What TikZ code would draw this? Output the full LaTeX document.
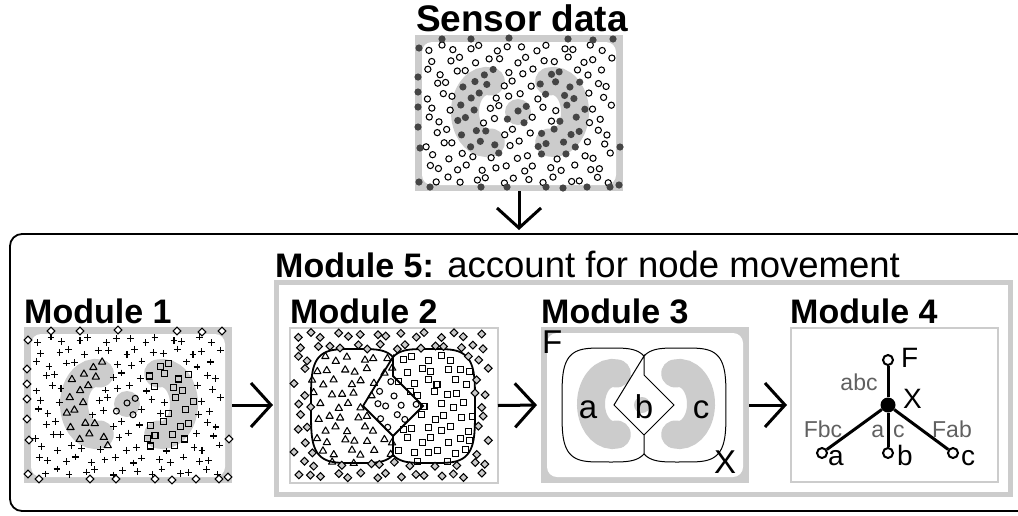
\documentclass[tikz,border=0pt]{standalone}
\usepackage{fontspec}
\setmainfont{Liberation Sans}
\usetikzlibrary{arrows.meta}
\definecolor{pg}{HTML}{CCCCCC}
\definecolor{dk}{HTML}{454545}
\definecolor{lbl}{HTML}{606060}
\newcommand\fs[1]{\fontsize{#1}{#1}\selectfont}
\newcommand\bordlist{4/13,27/4,56/4,94/3,153/4,178/5,198/4,3/42,3/57,3/72,3/92,5/113,4/147,15/152,66/152,92/152,131/152,148/153,172/152,195/152,204/150,205/112}
\newcommand\mkOpen[2]{\draw[mk,fill=white] (#1,#2) circle[radius=3.1];}
\newcommand\mkDark[2]{\fill[dk] (#1,#2) circle[radius=3.6];}
\newcommand\mkPlus[2]{\draw[mk,shift={(#1,#2)}] (-3.4,0)--(3.4,0) (0,-3.4)--(0,3.4);}
\newcommand\mkTri[2]{\draw[mk,line join=round,shift={(#1,#2)}] (0,-3.6)--(3.6,2.6)--(-3.6,2.6)--cycle;}
\newcommand\mkSq[2]{\draw[mk,shift={(#1,#2)}] (-3,-3) rectangle (3,3);}
\newcommand\mkDia[3]{\draw[mk,fill=#3,shift={(#1,#2)}] (0,-3.9)--(3.9,0)--(0,3.9)--(-3.9,0)--cycle;}
\newcommand\mkCirc[2]{\draw[mk] (#1,#2) circle[radius=3];}
\newcommand\blobs[1]{%
  \draw[pg,line width=28,line cap=round] (75.8,107.5) arc[start angle=80,end angle=280,x radius=22,y radius=31];
  \draw[pg,line width=28,line cap=round] (134.2,107.5) arc[start angle=100,end angle=-100,x radius=22,y radius=31];
  \fill[pg] #1;}
\newcommand\lobes[1]{%
  \draw[line width=#1] plot[domain=47.5:312.5,samples=90,variable=\t] ({66+45*sqrt(abs(cos(\t)))*(2*(cos(\t)>=0)-1)},{78+57*sqrt(abs(sin(\t)))*(2*(sin(\t)>=0)-1)});
  \draw[line width=#1] plot[domain=-132.5:132.5,samples=90,variable=\t] ({140+45*sqrt(abs(cos(\t)))*(2*(cos(\t)>=0)-1)},{78+57*sqrt(abs(sin(\t)))*(2*(sin(\t)>=0)-1)});
  \draw[line width=#1,line join=miter] (103,29)--(103,48)--(133,78)--(103,108)--(73,78)--cycle (103,108)--(103,127);}
\newcommand\sensorfield[1]{%
  \foreach \i in {0,...,13}{\foreach \j in {0,...,11}{
    \pgfmathsetmacro\px{13+13.4*\i+6.7*mod(\j,2)+3*sin(\i*151+\j*263+17)}
    \pgfmathsetmacro\py{13+12*\j+3*sin(\i*227+\j*97+53)}
    \pgfmathtruncatemacro\cls{1+inC(\px,\py)+2*inD(\px,\py)+3*inO(\px,\py)}
    \ifnum#1=0 \ifnum\cls=1 \mkOpen\px\py\else\mkDark\px\py\fi
    \else\ifcase\cls\or\mkPlus\px\py\or\mkTri\px\py\or\mkSq\px\py\or\mkCirc\px\py\fi\fi
  }}
  \foreach \bx/\by in \bordlist {\ifnum#1=0 \mkDark\bx\by\else\mkDia\bx\by{white}\fi}}
\begin{document}
\begin{tikzpicture}[x=1pt,y=-1pt,
  declare function={
    inC(\u,\v)=max((((\u-72)/36)^2+((\v-77)/45)^2<=1)*(((\u-72)/8)^2+((\v-77)/17)^2>=1)*(1-(\u>72)*(abs(\v-77)/31<5.67*(\u-72)/22)),(((\u-75.8)/14)^2+((\v-46.5)/14)^2<=1),(((\u-75.8)/14)^2+((\v-107.5)/14)^2<=1));
    inD(\u,\v)=max((((\u-138)/36)^2+((\v-77)/45)^2<=1)*(((\u-138)/8)^2+((\v-77)/17)^2>=1)*(1-(\u<138)*(abs(\v-77)/31<5.67*(138-\u)/22)),(((\u-134.2)/14)^2+((\v-46.5)/14)^2<=1),(((\u-134.2)/14)^2+((\v-107.5)/14)^2<=1));
    inO(\u,\v)=(((\u-103)/13)^2+((\v-77)/13)^2<=1);
    inL(\u,\v)=(((abs(\u-66)/45)^4+(abs(\v-78)/57)^4)<=1)*(\u<103);
    inR(\u,\v)=(((abs(\u-140)/45)^4+(abs(\v-78)/57)^4)<=1)*(\u>=103);
    inM(\u,\v)=((abs(\u-103)+abs(\v-78))<=30);
  },
  mk/.style={line width=1.05pt,black},
  box/.style={inner sep=0,outer sep=0,draw=none},
  ttl/.style={font=\fs{34}\bfseries,inner sep=0},
  arr/.style={line width=3pt,-{Straight Barb[length=20pt,width=44pt]}},
  l3/.style={font=\fs{33},inner sep=0},
  l4/.style={font=\fs{28},inner sep=0},
  el/.style={font=\fs{23},text=lbl,inner sep=0},
  leaf/.style={circle,draw,line width=2pt,fill=white,minimum size=10pt,inner sep=0},
  hub/.style={circle,fill=black,minimum size=15pt,inner sep=0},
  edge/.style={line width=3pt}]
\useasboundingbox (0,0) rectangle (1018,515);
\clip (0,0) rectangle (1018,515);
% frames
\node[box,draw=black,line width=1.8pt,rounded corners=12pt,minimum width=1020pt,minimum height=277pt] (frame) at (520,372.5) {};
\node[box,draw=pg,line width=5pt,minimum width=734pt,minimum height=211.5pt] (m5) at (643,388.25) {};
% panel anchors
\node[box,minimum width=208pt,minimum height=156pt] (sens) at (519,113) {};
\node[box,minimum width=208pt,minimum height=156pt] (m1) at (128,405) {};
\node[box,minimum width=208pt,minimum height=155pt] (m2) at (394,405.5) {};
\node[box,minimum width=208pt,minimum height=156pt] (m3) at (645,405) {};
\node[box,draw=pg,line width=1.5pt,minimum width=207pt,minimum height=154pt] (m4) at (894.5,405) {};
% titles
\node[font=\fs{37}\bfseries,inner sep=0,anchor=base] (tS) at (522,31) {Sensor data};
\node[anchor=base west,font=\fs{36.5},inner sep=0] (t5) at (275,277) {{\fs{34}\bfseries Module 5:} account for node movement};
\node[ttl,anchor=base west] (t1) at (24,323) {Module 1};
\node[ttl,anchor=base west] (t2) at (290,323) {Module 2};
\node[ttl,anchor=base west] (t3) at (541,323) {Module 3};
\node[ttl,anchor=base west] (t4) at (790,323) {Module 4};
% sensor panel
\begin{scope}[shift={(415,35)}]
  \fill[pg] (0,0) rectangle (208,156);
  \fill[white,rounded corners=10pt] (7,7) rectangle (201,150);
  \blobs{(103,77) circle[radius=13]}
  \sensorfield{0}
\end{scope}
% module 1
\begin{scope}[shift={(24,327)}]
  \fill[pg] (0,0) rectangle (208,156);
  \fill[white,rounded corners=10pt] (7,7) rectangle (201,150);
  \blobs{(103,77) circle[radius=13]}
  \sensorfield{1}
\end{scope}
% module 2
\begin{scope}[shift={(290,328)}]
  \draw[pg,line width=1.5pt] (0,0) rectangle (208,155);
  \lobes{1.8pt}
  \foreach \i in {0,...,14}{\foreach \j in {0,...,12}{
    \pgfmathsetmacro\px{7+13*\i+6.5*mod(\j,2)+3*sin(\i*131+\j*241+29)}
    \pgfmathsetmacro\py{7+11.7*\j+2.5*sin(\i*199+\j*83+71)}
    \pgfmathtruncatemacro\dd{inM(\px,\py)}
    \pgfmathtruncatemacro\cls{1+(1-\dd)*(inL(\px,\py)+2*inR(\px,\py))+3*\dd}
    \ifcase\cls\or\mkDia\px\py{pg}\or\mkTri\px\py\or\mkSq\px\py\or\mkCirc\px\py\fi
  }}
\end{scope}
% module 3
\begin{scope}[shift={(541,327)}]
  \fill[pg] (0,0) rectangle (208,156);
  \fill[white,rounded corners=10pt] (6,6) rectangle (202,150);
  \blobs{(101,78) circle[radius=8]}
  \lobes{1pt}
\end{scope}
\node[l3,anchor=base west] (F3) at (542,353) {F};
\node[l3,anchor=base west] (X3) at (714,473) {X};
\node[l3,anchor=base] (a3) at (588,418) {a};
\node[l3,anchor=base] (b3) at (644,418) {b};
\node[l3,anchor=base] (c3) at (701,418) {c};
% module 4 tree
\node[el,anchor=base] (eabc) at (859,390) {abc};
\node[el,anchor=base] (eFbc) at (823,437) {Fbc};
\node[el,anchor=base] (eac) at (888,437) {a\hspace{9pt}c};
\node[el,anchor=base] (eFab) at (952,437) {Fab};
\node[hub] (X) at (888,405) {};
\node[leaf] (F) at (888,360) {};
\node[leaf] (a) at (822,453) {};
\node[leaf] (b) at (888,453) {};
\node[leaf] (c) at (953,453) {};
\draw[edge] (X) -- (F);
\draw[edge] (X) -- (a);
\draw[edge] (X) -- (b);
\draw[edge] (X) -- (c);
\node[l4,anchor=base west] (lF) at (901,367) {F};
\node[l4,anchor=base west] (lX) at (903,408) {X};
\node[l4,anchor=base west] (la) at (828,465) {a};
\node[l4,anchor=base west] (lb) at (897,465) {b};
\node[l4,anchor=base west] (lc) at (961,465) {c};
% arrows
\draw[arr,shorten >=4pt] (sens.south) -- (sens.south |- frame.north);
\draw[arr,shorten >=3pt] (m1.east) -- (m1.east -| m5.west);
\draw[arr,shorten >=4pt] (m2.east) -- (m3.west);
\draw[arr,shorten >=4pt] (m3.east) -- (m4.west);
\end{tikzpicture}
\end{document}
